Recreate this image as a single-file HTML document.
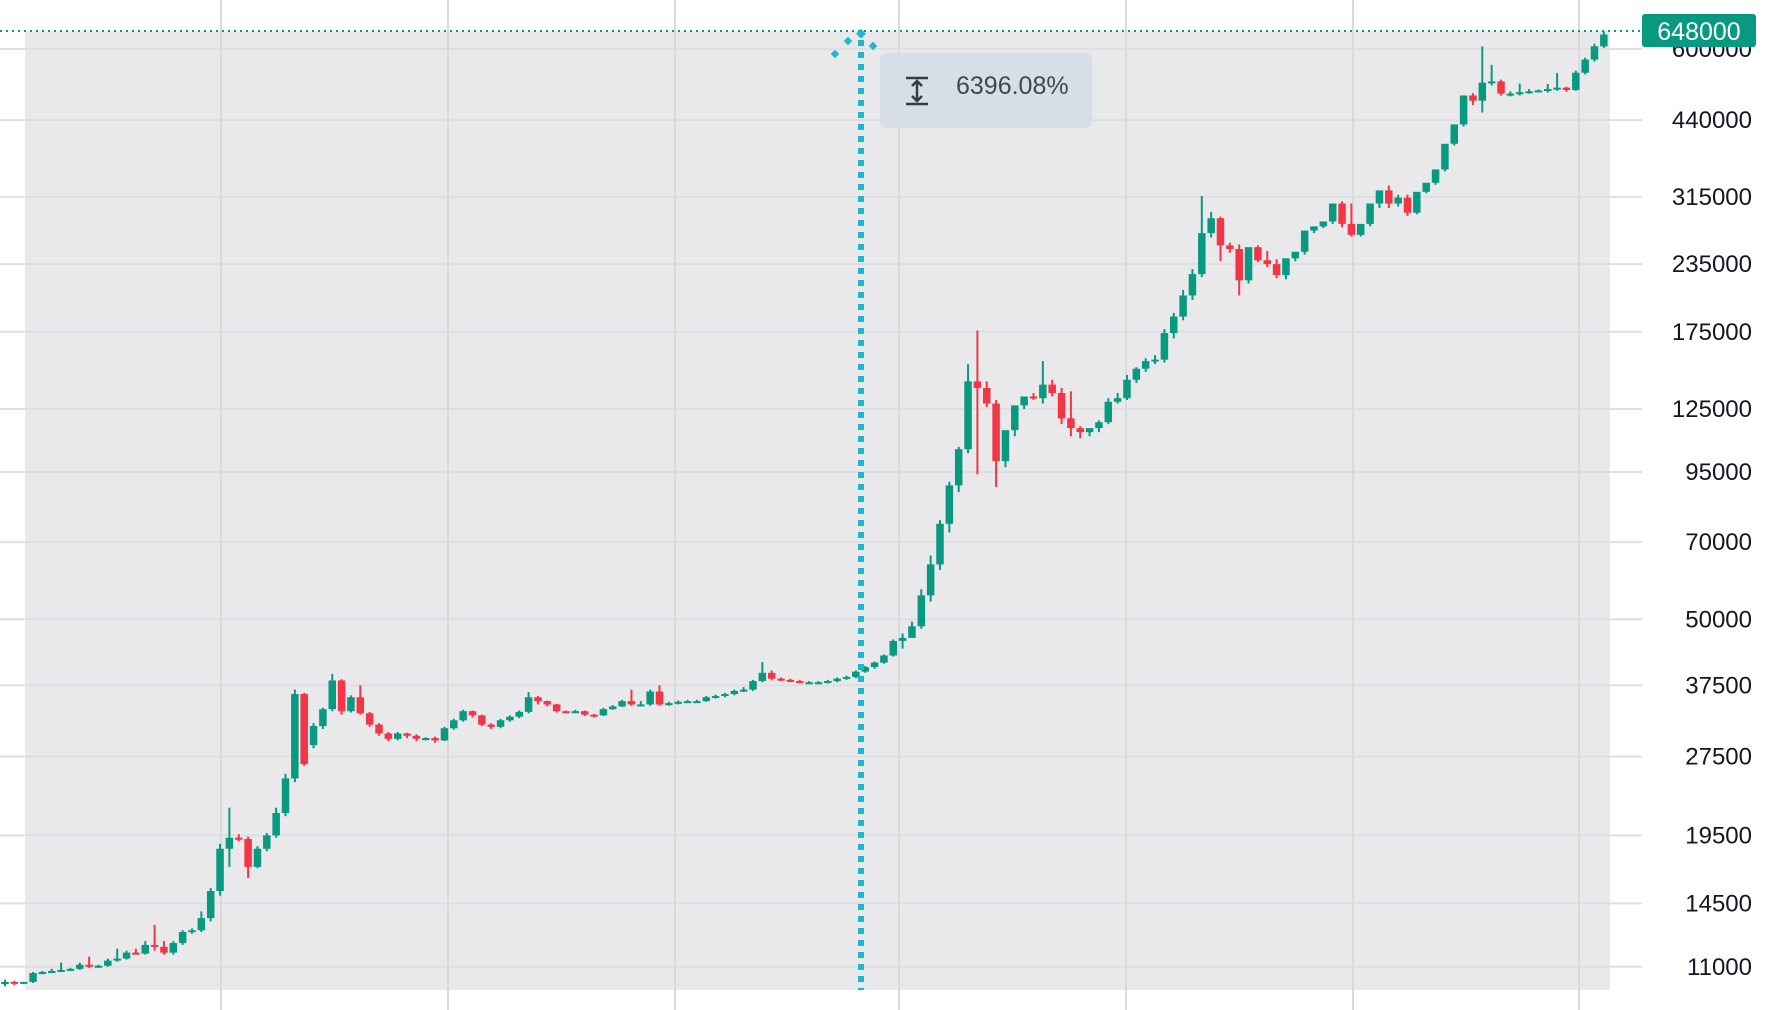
<!DOCTYPE html>
<html><head><meta charset="utf-8"><style>
html,body{margin:0;padding:0;background:#fff;}
svg{display:block;font-family:"Liberation Sans",sans-serif;}
</style></head><body>
<svg id="chart" width="1769" height="1010" xmlns="http://www.w3.org/2000/svg">
<rect x="25" y="31" width="1585" height="959" fill="#e9e9ec"/>
<g id="grid"></g>
<g id="candles"></g>
<g id="axis"></g>
<line x1="0" y1="31" x2="1642" y2="31" stroke="#089981" stroke-width="2" stroke-dasharray="2 4"/>
<rect x="1642" y="14" width="114" height="33" rx="3" fill="#089981"/>
<text x="1699" y="40" font-size="25" fill="#fff" text-anchor="middle">648000</text>
<line x1="861" y1="40" x2="861" y2="990" stroke="#1fb6cf" stroke-width="6" stroke-dasharray="6 6"/>
<g fill="#1fb6cf">
<rect x="832" y="51" width="6" height="6" transform="rotate(45 835 54)"/>
<rect x="845" y="38" width="6" height="6" transform="rotate(45 848 41)"/>
<rect x="858" y="30" width="7" height="7" transform="rotate(45 861 33)"/>
<rect x="870" y="43" width="6" height="6" transform="rotate(45 873 46)"/>
</g>
<rect x="880" y="53" width="212" height="75" rx="7" fill="#d6dfe8"/>
<g stroke="#363a45" stroke-width="2.5" fill="none">
<line x1="906" y1="78" x2="928" y2="78"/><line x1="906" y1="104" x2="928" y2="104"/>
<line x1="917" y1="82" x2="917" y2="100"/><polyline points="912,86 917,81 922,86"/><polyline points="912,96 917,101 922,96"/>
</g>
<text x="956" y="94" font-size="25" fill="#434651">6396.08%</text>
</svg>
<script>
const priceTicks=[600000,440000,315000,235000,175000,125000,95000,70000,50000,37500,27500,19500,14500,11000];
const timeGridX=[221,448,675,899,1126,1353,1579];
const opens=[10.2,10.3,10.25,10.3,10.7,10.75,10.8,10.85,10.9,11.1,
11.0,11.05,11.3,11.4,11.7,11.65,12.1,12.0,11.7,12.2,
12.8,12.9,13.6,15.3,18.4,19.3,19.2,17.0,18.4,19.5,
21.5,25.0,36.1,28.9,31.4,33.8,38.3,33.5,35.6,33.2,
31.6,30.4,29.7,30.4,30.1,29.7,29.8,29.5,31.1,32.2,
33.5,32.9,31.6,31.3,32.2,32.7,33.4,35.6,35.0,34.5,
33.5,33.4,33.5,33.0,32.9,33.8,34.2,35.0,34.5,34.5,
36.5,34.5,34.7,34.9,35.0,35.0,35.6,35.8,36.1,36.6,
36.8,38.2,39.6,38.6,38.4,38.2,38.0,38.0,38.0,38.2,38.6,
38.9,39.8,40.6,41.4,42.7,45.5,46.1,48.5,55.5,63.5,
75.8,89.6,104.9,141,137,128,99.6,114,127,132,
131,139,134,120,115,113,115,118,129,131,
142,149,154,155,174,187,205,225,269,287,
255,251,219,253,239,235,224,241,248,272,
277,283,306,280,267,280,306,324,
306,314,294,322,335,355,397,432,490,479,
518,521,494,494,497,499,501,504,507,502,541,
573,607];
const highs=[10.4,10.35,10.3,10.75,10.8,10.9,11.2,10.95,11.2,11.5,
11.1,11.4,11.9,11.8,11.9,12.3,13.2,12.3,12.3,12.9,
13.0,14.0,15.5,18.8,22.0,19.6,19.4,18.6,19.7,22.0,
25.5,36.8,36.3,31.8,34.0,39.4,38.5,35.9,37.5,33.4,
31.8,30.6,30.6,30.5,30.3,29.9,30.0,31.3,32.4,33.7,
33.6,33.0,31.8,32.4,32.9,33.6,36.4,35.8,35.1,34.6,
33.6,33.7,33.6,33.1,34.0,34.4,35.2,36.8,35.0,36.8,
37.5,34.9,35.1,35.2,35.2,35.8,36.0,36.3,36.8,37.2,
38.4,41.5,40.0,38.8,38.6,38.4,38.2,38.2,38.4,38.8,39.1,
40.0,40.8,41.6,42.9,45.8,47.0,49.5,57.0,66.0,77.0,
91.0,106,152,176,141,130,102,116,129,134,
154,142,137,135,116,115,119,131,134,145,
150,156,158,177,190,210,230,316,295,289,
258,256,228,255,249,240,237,243,251,275,
281,290,309,306,270,283,309,331,
318,318,310,326,338,360,404,440,495,607,
560,525,499,516,504,503,515,540,509,546,578,
614,648];
const lows=[10.1,10.15,10.2,10.25,10.65,10.7,10.75,10.8,10.85,10.95,
10.95,11.0,11.25,11.35,11.6,11.6,11.8,11.6,11.6,12.1,
12.7,12.8,13.4,15.0,17.0,19.0,16.2,16.9,18.2,19.3,
21.2,24.6,26.4,28.5,31.0,33.5,33.0,33.3,33.0,31.3,
30.1,29.4,29.5,29.8,29.4,29.5,29.2,29.4,30.9,32.0,
32.6,31.4,31.0,31.1,32.0,32.5,33.2,34.5,34.2,33.3,
33.2,33.2,32.8,32.6,32.8,33.7,34.1,34.3,34.3,34.3,
34.3,34.3,34.5,34.7,34.8,34.9,35.4,35.6,35.9,36.4,
36.6,38.0,38.3,38.2,38.0,37.8,37.8,37.8,37.8,38.0,38.4,
38.7,39.6,40.3,41.2,42.5,44.0,46.5,48.0,54.0,62.0,
73.0,87.0,103,94,126,89,97,111,125,130,
128,132,117,111,110,111,113,117,128,130,
140,147,152,153,170,184,201,222,264,238,
247,205,216,237,232,221,220,238,245,269,
275,280,276,265,265,277,300,300,
302,290,292,320,332,352,394,428,470,455,
512,490,488,490,494,497,496,500,498,500,537,
568,603];
const closes=[10.3,10.25,10.3,10.7,10.75,10.8,10.85,10.9,11.1,11.0,
11.05,11.3,11.4,11.7,11.65,12.1,12.0,11.7,12.2,12.8,
12.9,13.6,15.3,18.4,19.3,19.2,17.0,18.4,19.5,21.5,
25.0,36.1,26.6,31.4,33.8,38.3,33.5,35.6,33.2,31.6,
30.4,29.7,30.4,30.1,29.7,29.8,29.5,31.1,32.2,33.5,
32.9,31.6,31.3,32.2,32.7,33.4,35.6,35.0,34.5,33.5,
33.4,33.5,33.0,32.9,33.8,34.2,35.0,34.5,34.5,36.5,
34.5,34.7,34.9,35.0,35.0,35.6,35.8,36.1,36.6,36.8,
38.2,39.6,38.6,38.4,38.2,38.0,38.0,38.0,38.2,38.6,38.9,
39.8,40.6,41.4,42.7,45.5,46.1,48.5,55.5,63.5,75.8,
89.6,104.9,141,137,128,99.6,114,127,132,131,
139,134,120,115,113,115,118,129,131,142,
149,154,155,174,187,205,225,269,287,255,
251,219,253,239,235,224,241,248,272,277,
283,306,280,267,280,306,324,306,
314,294,322,335,355,397,432,490,479,518,
521,494,494,497,499,501,504,507,502,541,573,
607,639];
const NS='http://www.w3.org/2000/svg';
const Y600=49, PX_PER_LN=229.5;
function yScale(v){return Y600+PX_PER_LN*Math.log(600000/v);}
function xScale(i){return 5+i*9.35;}
const grid=document.getElementById('grid');
const axis=document.getElementById('axis');
const candles=document.getElementById('candles');
function mk(tag,attrs,parent){const e=document.createElementNS(NS,tag);for(const k in attrs)e.setAttribute(k,attrs[k]);parent.appendChild(e);return e;}
priceTicks.forEach(v=>{
  const y=yScale(v);
  const l=mk('line',{x1:0,x2:1642,y1:y,y2:y,stroke:'#dfdfe2','stroke-width':2},grid);
  
  
  const t=mk('text',{x:1752,y:y+8,'font-size':24,fill:'#131722','text-anchor':'end'},axis);
  
  
  t.textContent=String(v);
});
timeGridX.forEach(x=>{
  const l=mk('line',{x1:x,x2:x,y1:0,y2:1010,stroke:'#dadadd','stroke-width':2},grid);
  
  
});
const BW=7.5;
closes.forEach((c,i)=>{
  const o=opens[i]*1000, cl=c*1000, h=highs[i]*1000, lo=lows[i]*1000;
  const col=cl>=o?'#089981':'#f23645';
  const x=xScale(i);
  const g=mk('g',{},candles);
  
  
  mk('line',{x1:x,x2:x,y1:yScale(h),y2:yScale(lo),stroke:col,'stroke-width':2},g);
  const yt=yScale(Math.max(o,cl)), yb=yScale(Math.min(o,cl));
  mk('rect',{x:x-BW/2,y:yt,width:BW,height:Math.max(2,yb-yt),fill:col},g);
});
</script>
</body></html>
